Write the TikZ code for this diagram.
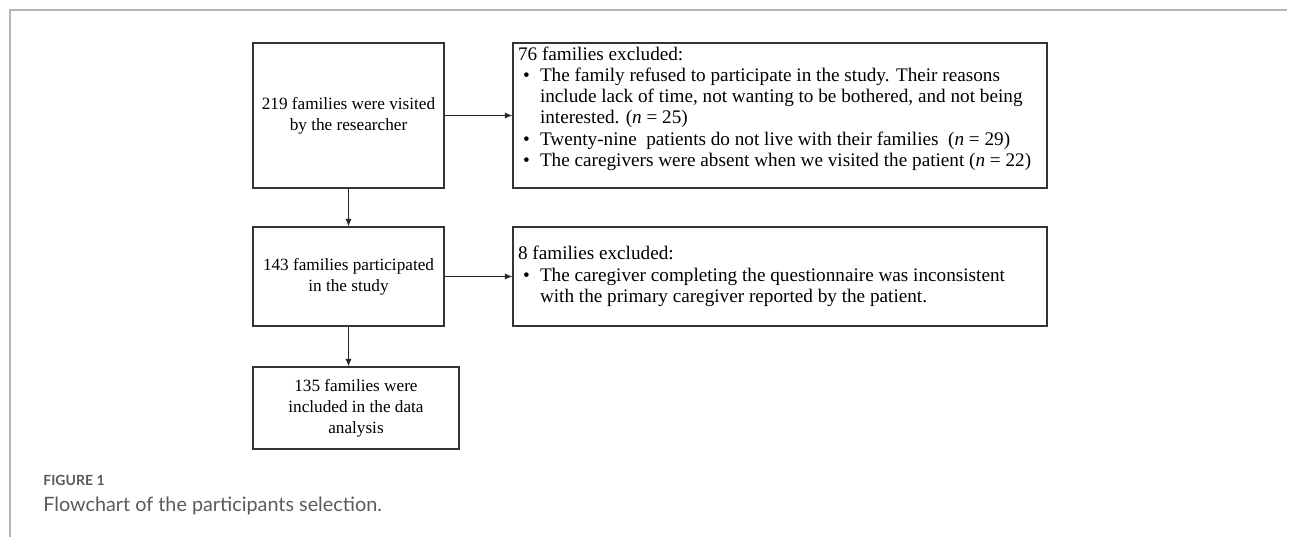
\documentclass[tikz,border=0pt]{standalone}
\usepackage{fontspec}
\setmainfont{Liberation Serif}
\newfontfamily\capfont{Lato}
\usepackage{tikz}
\usetikzlibrary{arrows.meta}

\definecolor{framegray}{HTML}{B4B4B4}
\definecolor{capgray}{HTML}{5A5A5A}
\newcommand{\bul}{\hspace*{2.5pt}\makebox[8.5pt][l]{\textbullet}}
\newcommand{\hang}{\hspace*{11pt}}

\begin{document}
\begin{tikzpicture}[x=0.5pt, y=-0.5pt,
    box/.style={draw=black!80, line width=0.6pt, inner sep=2.5pt,
      font=\fontsize{8.6pt}{10.5pt}\selectfont},
    listbox/.style={box, font=\fontsize{9.6pt}{10.6pt}\selectfont},
    arr/.style={-{Latex[length=3.8pt,width=3.2pt]}, draw=black!85, line width=0.6pt}]
  \useasboundingbox (0,0) rectangle (1290,537);
  \draw[framegray, line width=0.8pt] (10,537) -- (10,10) -- (1287,10);

  \node[box, minimum width=95.5pt, minimum height=72.5pt, align=center] (visited) at (348.5,115.5)
    {219 families were visited\\ by the researcher};
  \node[box, minimum width=95.5pt, minimum height=49.5pt, align=center] (participated) at (348.5,276.5)
    {143 families participated\\ in the study};
  \node[box, minimum width=103pt, minimum height=41pt, align=center] (included) at (356,408)
    {135 families were\\ included in the data\\ analysis};

  \node[listbox, minimum width=267pt, minimum height=72.5pt] (excl76) at (780,115.5)
    {\begin{minipage}[c][67.5pt][t]{262pt}
      \vspace*{-0.6pt}
      76 families excluded:\\
      \bul The family refused to participate in the study. Their reasons\\
      \hang include lack of time, not wanting to be bothered, and not being\\
      \hang interested. (\textit{n} = 25)\\
      \bul Twenty-nine\ \ patients do not live with their families\ \ (\textit{n} = 29)\\
      \bul The caregivers were absent when we visited the patient (\textit{n} = 22)
    \end{minipage}};
  \node[listbox, minimum width=267pt, minimum height=49.5pt] (excl8) at (780,276.5)
    {\begin{minipage}{262pt}
      8 families excluded:\\
      \bul The caregiver completing the questionnaire was inconsistent\\
      \hang with the primary caregiver reported by the patient.
    \end{minipage}};

  \draw[arr] (visited) -- (excl76);
  \draw[arr] (participated) -- (excl8);
  \draw[arr] (visited) -- (participated);
  \draw[arr] (participated.south) -- (participated.south |- included.north);

  \node[anchor=base west, inner sep=0pt, text=capgray, font=\capfont\bfseries\fontsize{7pt}{8pt}\selectfont]
    (figlabel) at (43,485) {FIGURE 1};
  \node[anchor=base west, inner sep=0pt, text=capgray, font=\capfont\fontsize{9.9pt}{11pt}\selectfont]
    (figcaption) at (43,511) {Flowchart of the participants selection.};
\end{tikzpicture}
\end{document}
